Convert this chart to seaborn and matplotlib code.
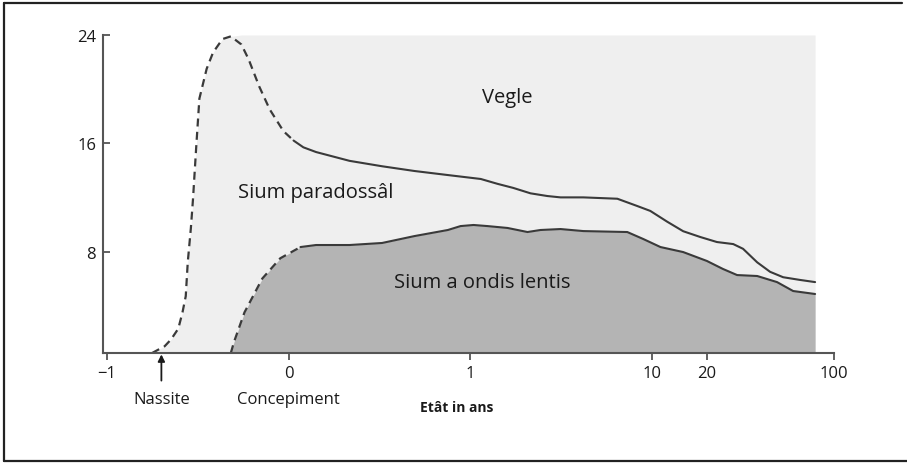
import numpy as np
import matplotlib
matplotlib.use("Agg")
import matplotlib.pyplot as plt
from matplotlib.lines import Line2D
from matplotlib.ticker import NullLocator
import seaborn as sns

# etât (ans) e oris di sium totâl
total_age = [-0.751, -0.682, -0.647, -0.607, -0.584, -0.566, -0.555, -0.538, -0.526,
             -0.509, -0.491, -0.451, -0.416, -0.364, -0.318, -0.260, -0.220, -0.162,
             -0.104, -0.029, 0.027, 0.081, 0.151, 0.335, 0.514, 0.692, 0.876, 1.14,
             1.41, 1.72, 2.14, 2.65, 3.13, 4.18, 6.43, 8.28, 9.76, 12.1, 14.8, 18.4,
             22.7, 27.9, 31.6, 37.8, 44.5, 52.5, 65.0, 78.7]
total_hours = [0.5, 1.0, 1.5, 2.3, 3.5, 4.7, 7.2, 9.7, 11.9, 15.6, 19.3, 21.5, 22.7,
               23.7, 23.9, 23.3, 22.2, 20.2, 18.5, 16.9, 16.2, 15.7, 15.35, 14.7,
               14.3, 13.95, 13.65, 13.36, 13.0, 12.7, 12.3, 12.1, 12.0, 12.0, 11.9,
               11.36, 11.0, 10.2, 9.5, 9.07, 8.7, 8.55, 8.2, 7.2, 6.5, 6.1, 5.9, 5.74]

# sium a ondis lentis
nrem_age = [-0.318, -0.301, -0.243, -0.145, -0.046, 0.065, 0.151, 0.335, 0.514,
            0.692, 0.876, 0.946, 1.04, 1.24, 1.60, 2.06, 2.43, 3.13, 4.18, 7.29,
            8.94, 11.1, 14.8, 20.0, 24.5, 29.3, 37.8, 48.6, 59.6, 78.7]
nrem_hours = [0.5, 1.3, 3.5, 6.0, 7.5, 8.33, 8.48, 8.48, 8.63, 9.14, 9.59, 9.88,
              9.96, 9.88, 9.74, 9.44, 9.59, 9.66, 9.51, 9.44, 8.92, 8.33, 7.96, 7.3,
              6.71, 6.26, 6.19, 5.74, 5.08, 4.86]

xticks = [-1, 0, 1, 10, 20, 100]
xtick_labels = ["\u22121", "0", "1", "10", "20", "100"]
yticks = [8, 16, 24]

LIGHT = "#efefef"
DARK = "#b4b4b4"
LINE = "#3a3a3a"
TEXT = "#1a1a1a"


def split(age, hours):
    age = np.asarray(age)
    hours = np.asarray(hours)
    k = int(np.argmax(age > 0))
    return (age[:k + 1], hours[:k + 1]), (age[k:], hours[k:])


sns.set_style("white")
plt.rcParams["font.family"] = ["Open Sans", "DejaVu Sans"]

fig = plt.figure(figsize=(9.07, 4.64), dpi=100)
ax = fig.add_axes([103 / 907, 110 / 464, 731 / 907, 318 / 464])

# -1..0..1 linear, dopo logaritmic: ogni toc la stesse largjece
ax.set_xscale("symlog", linthresh=1, linscale=0.9)
ax.set_xlim(-1.05, 100)
ax.set_ylim(0.5, 24)

t_age = np.asarray(total_age)
t_h = np.asarray(total_hours)
peak = int(np.argmax(t_h))
envelope = np.where(np.arange(len(t_h)) <= peak, t_h, 24)
ax.fill_between(t_age, 0, envelope, color=LIGHT, lw=0, zorder=1)
ax.fill_between(nrem_age, 0, nrem_hours, color=DARK, lw=0, zorder=2)

for age, hours in [(total_age, total_hours), (nrem_age, nrem_hours)]:
    (pa, ph), (sa, sh) = split(age, hours)
    sns.lineplot(x=pa, y=ph, ax=ax, color=LINE, linewidth=1.6, sort=False,
                 errorbar=None, linestyle=(0, (3.6, 2.4)), zorder=3)
    sns.lineplot(x=sa, y=sh, ax=ax, color=LINE, linewidth=1.5, sort=False,
                 errorbar=None, zorder=3)

ax.set_xticks(xticks)
ax.set_xticklabels(xtick_labels)
ax.xaxis.set_minor_locator(NullLocator())
ax.set_yticks(yticks)
ax.set_yticklabels([str(v) for v in yticks])
ax.tick_params(axis="x", bottom=True, direction="out", length=5, width=1.3,
               color="#555555", labelsize=12, pad=4, labelcolor=TEXT)
ax.tick_params(axis="y", left=True, direction="in", length=5, width=1.3,
               color="#555555", labelsize=12, pad=5, labelcolor=TEXT)

for s in ["top", "right"]:
    ax.spines[s].set_visible(False)
for s in ["left", "bottom"]:
    ax.spines[s].set_color("#555555")
    ax.spines[s].set_linewidth(1.5)
    ax.spines[s].set_zorder(4)

ax.set_xlabel("Etât in ans", fontsize=10, fontweight="bold", color=TEXT)
ax.xaxis.set_label_coords(0.484, -0.148)

ax.text(1.6, 19.4, "Vegle", fontsize=14.5, ha="center", va="center", color=TEXT)
ax.text(0.147, 12.4, "Sium paradossâl", fontsize=14.5, ha="center", va="center",
        color=TEXT)
ax.text(1.16, 5.74, "Sium a ondis lentis", fontsize=14.5, ha="center", va="center",
        color=TEXT)

ax.annotate("Nassite", xy=(-0.7, 0.5), xytext=(0, -33), textcoords="offset points",
            ha="center", va="center", fontsize=12, color=TEXT,
            annotation_clip=False,
            arrowprops=dict(arrowstyle="-|>", color=TEXT, lw=1.3,
                            shrinkA=5, shrinkB=1, mutation_scale=10))
ax.annotate("Concepiment", xy=(0, 0.5), xytext=(0, -33), textcoords="offset points",
            ha="center", va="center", fontsize=12, color=TEXT,
            annotation_clip=False)

# ricuadri ator de figure
for xs, ys in [([4, 902], [460, 460]), ([4, 4], [2, 460]), ([4, 907], [2, 2])]:
    fig.add_artist(Line2D(np.array(xs) / 907, np.array(ys) / 464, color="#222222",
                          lw=1.6))

fig.savefig("out.png", dpi=100)
